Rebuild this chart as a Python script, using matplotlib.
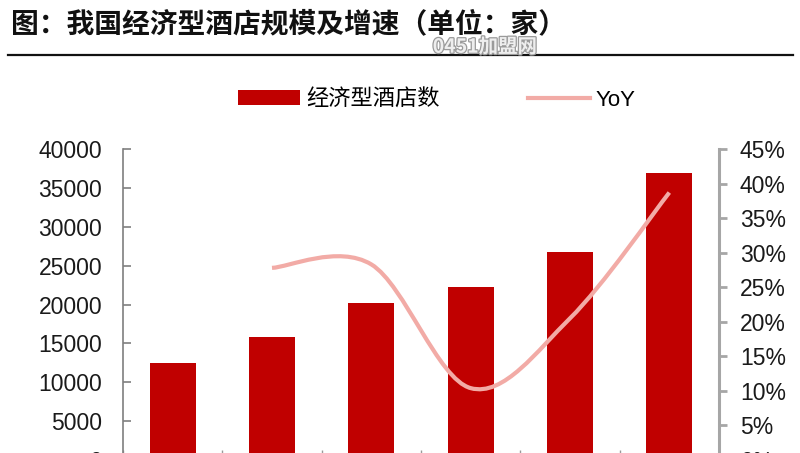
import numpy as np
import matplotlib
matplotlib.use("Agg")
import matplotlib.pyplot as plt
from matplotlib.path import Path
from matplotlib.patches import PathPatch, Patch
from matplotlib.lines import Line2D
import matplotlib.patheffects as pe

plt.rcParams['font.family'] = ['Liberation Sans', 'Noto Sans CJK SC']

# data
years = ['2012', '2013', '2014', '2015', '2016', '2017']
hotels = [12500, 15800, 20200, 22300, 26700, 36900]   # 经济型酒店数
yoy = [27.8, 28.3, 10.4, 20.5, 38.7]                  # YoY, %, from 2nd year
left_ticks = list(range(0, 40001, 5000))
right_ticks = list(range(0, 46, 5))

bar_color = '#C00000'
line_color = '#F2ABA6'
cjk = ['Noto Sans CJK SC', 'DejaVu Sans']

fig = plt.figure(figsize=(8, 4.53), dpi=100)

# title + rule
fig.text(0.014, 1 - 24 / 453, '图：我国经济型酒店规模及增速（单位：家）',
         fontsize=20, fontweight='bold', family=cjk, color='#111111',
         ha='left', va='center')
fig.add_artist(Line2D([8 / 800, 793 / 800], [1 - 55 / 453, 1 - 55 / 453],
                      color='#111111', lw=1.6))
wm = fig.text(485 / 800, 1 - 47 / 453, '0451加盟网', fontsize=14, fontweight='bold',
              family=cjk, color='#eeeeee', ha='center', va='center')
wm.set_path_effects([pe.withStroke(linewidth=1.8, foreground='#9a9a9a')])

# main axes (bottom runs a little past the picture edge, as in the reference)
ax = fig.add_axes([123 / 800, (453 - 460) / 453, 596 / 800, 311 / 453])
x = np.arange(len(years))
ax.bar(x, hotels, width=0.46, color=bar_color, zorder=2)
ax.set_xlim(-0.5, len(years) - 0.5)
ax.set_ylim(0, 40000)
ax.set_yticks(left_ticks)
ax.set_yticklabels([str(v) for v in left_ticks])
# category boundary ticks only; year labels lie below the cropped edge
ax.set_xticks(np.arange(-0.5, len(years)), labels=[])
ax.tick_params(axis='y', direction='in', length=6, width=1.2, color='#7f7f7f',
               labelsize=16.5, labelcolor='#1a1a1a', pad=15)
ax.tick_params(axis='x', direction='in', length=7, width=1, color='#9a9a9a')
for s in ['top', 'right', 'bottom']:
    ax.spines[s].set_visible(False)
ax.spines['left'].set_color('#7f7f7f')
ax.spines['left'].set_linewidth(1.2)

ax2 = ax.twinx()
ax2.set_ylim(0, 45)
ax2.set_yticks(right_ticks)
ax2.set_yticklabels([f'{v}%' for v in right_ticks])
ax2.tick_params(axis='y', direction='out', length=6, width=2, color='#a6a6a6',
                labelsize=16.5, labelcolor='#1a1a1a', pad=9)
for s in ['top', 'left', 'bottom']:
    ax2.spines[s].set_visible(False)
ax2.spines['right'].set_color('#a6a6a6')
ax2.spines['right'].set_linewidth(2.2)

# smoothed YoY line (Bezier through the data points)
pts = np.column_stack([x[1:], yoy]).astype(float)
n = len(pts)
verts = [pts[0]]
codes = [Path.MOVETO]
for i in range(n - 1):
    p0 = pts[i - 1] if i > 0 else pts[i]
    p1 = pts[i]
    p2 = pts[i + 1]
    p3 = pts[i + 2] if i + 2 < n else pts[i + 1]
    verts += [p1 + (p2 - p0) / 6, p2 - (p3 - p1) / 6, p2]
    codes += [Path.CURVE4] * 3
ax2.add_patch(PathPatch(Path(verts, codes), facecolor='none', edgecolor=line_color,
                        lw=3, capstyle='butt', zorder=3))

# legend
handles = [Patch(facecolor=bar_color, edgecolor='none'),
           Line2D([], [], color=line_color, lw=3)]
leg = fig.legend(handles, ['经济型酒店数', 'YoY'], loc='center',
                 bbox_to_anchor=(437 / 800, 1 - 99 / 453), ncol=2, frameon=False,
                 prop={'family': cjk, 'size': 16}, handlelength=2.8,
                 handleheight=0.65, handletextpad=0.25, columnspacing=4.0)
leg.get_texts()[1].set_family('Liberation Sans')

fig.savefig('out.png', dpi=100)
